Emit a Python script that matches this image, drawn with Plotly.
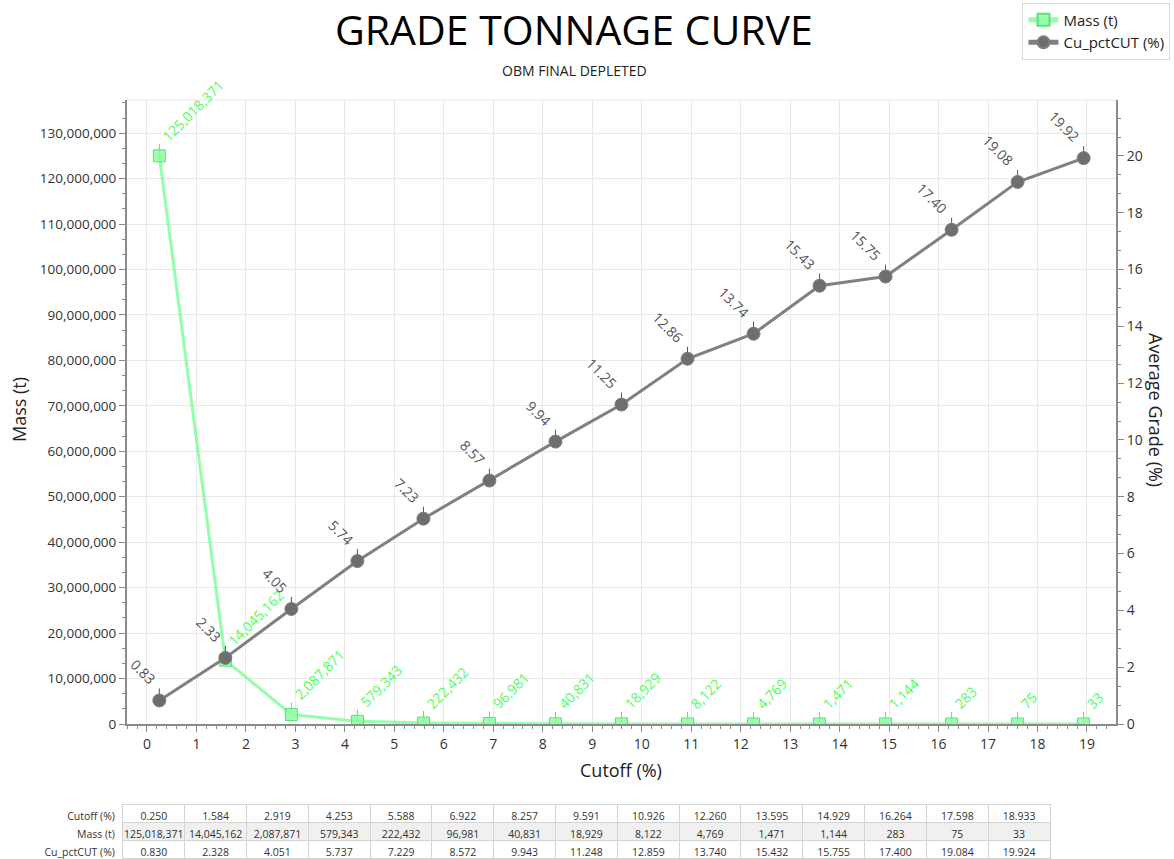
import plotly.graph_objects as go

# Grade-tonnage table values
cutoff = [0.250, 1.584, 2.919, 4.253, 5.588, 6.922, 8.257, 9.591, 10.926,
          12.260, 13.595, 14.929, 16.264, 17.598, 18.933]
mass_t = [125018371, 14045162, 2087871, 579343, 222432, 96981, 40831, 18929,
          8122, 4769, 1471, 1144, 283, 75, 33]
cu_pct = [0.830, 2.328, 4.051, 5.737, 7.229, 8.572, 9.943, 11.248, 12.859,
          13.740, 15.432, 15.7549, 17.400, 19.084, 19.924]

FONT = "Open Sans"
W, H = 1174, 859
ML, MR, MT, MB = 0, 58, 100, 0
PW, PH = W - ML - MR, H - MT - MB

def px_x(p):
    return (p - ML) / PW

def px_y(p):
    return (H - MB - p) / PH

GREEN_LINE = "rgba(110,255,140,0.75)"
GREEN_FILL = "rgba(140,255,160,0.85)"
GREEN_EDGE = "#5ee07a"
GREEN_TEXT = "#4cff5a"
GRAY_LINE = "#808080"
GRAY_MARK = "#6e6e6e"
GRAY_TEXT = "#555555"

x_range = [-0.404, 19.587]
y_range = [0, 137.3e6]
y2_range = [0, 21.97]
plot_h_px = 724 - 100
lead_px = 12

fig = go.Figure()

fig.add_trace(go.Scatter(
    x=cutoff, y=mass_t, name="Mass (t)", mode="lines+markers",
    line=dict(color=GREEN_LINE, width=3),
    marker=dict(symbol="square", size=12, color=GREEN_FILL,
                line=dict(color=GREEN_EDGE, width=1)),
    error_y=dict(type="data", symmetric=False,
                 array=[lead_px * y_range[1] / plot_h_px] * len(cutoff),
                 arrayminus=[0] * len(cutoff),
                 color=GREEN_EDGE, thickness=1, width=0),
    yaxis="y", hoverinfo="skip",
))

fig.add_trace(go.Scatter(
    x=cutoff, y=cu_pct, name="Cu_pctCUT (%)", mode="lines+markers",
    line=dict(color=GRAY_LINE, width=3),
    marker=dict(symbol="circle", size=13, color=GRAY_MARK,
                line=dict(color=GRAY_LINE, width=1)),
    error_y=dict(type="data", symmetric=False,
                 array=[lead_px * y2_range[1] / plot_h_px] * len(cutoff),
                 arrayminus=[0] * len(cutoff),
                 color="#555555", thickness=1, width=0),
    yaxis="y2", hoverinfo="skip",
))

# Bottom data table
row_names = ["Cutoff (%)", "Mass (t)", "Cu_pctCUT (%)"]
cols = [[f"{c:.3f}" for c in cutoff], [f"{m:,}" for m in mass_t],
        [f"{g:.3f}" for g in cu_pct]]
header_vals = [row_names[0]] + cols[0]
cell_vals = [[row_names[1], row_names[2]]] + [[cols[1][i], cols[2][i]] for i in range(len(cutoff))]
line_cols = ["white"] + ["#d4d4d4"] * len(cutoff)
cell_fill = [["white", "white"]] + [["#f0f0f0", "white"]] * len(cutoff)
fig.add_trace(go.Table(
    domain=dict(x=[px_x(0), px_x(1050)], y=[0, px_y(804)]),
    columnwidth=[110] + [55.3] * len(cutoff),
    header=dict(values=header_vals, height=18,
                align=["right"] + ["center"] * len(cutoff),
                fill=dict(color="white"),
                line=dict(color=line_cols, width=1),
                font=dict(family=FONT, size=10.5, color="#333333")),
    cells=dict(values=cell_vals, height=18,
               align=["right"] + ["center"] * len(cutoff),
               fill=dict(color=cell_fill),
               line=dict(color=line_cols, width=1),
               font=dict(family=FONT, size=10.5, color="#333333")),
))

annotations = []
# value labels for mass (ascending) and grade (descending, to the upper left)
for c, m in zip(cutoff, mass_t):
    annotations.append(dict(
        x=c, y=m, xref="x", yref="y", text=f"{m:,}", showarrow=False,
        textangle=-45, xanchor="left", yanchor="bottom", xshift=-4, yshift=8,
        font=dict(family=FONT, size=14, color=GREEN_TEXT)))
for c, g in zip(cutoff, cu_pct):
    annotations.append(dict(
        x=c, y=g, xref="x", yref="y2", text=f"{g:.2f}", showarrow=False,
        textangle=45, xanchor="right", yanchor="bottom", xshift=3, yshift=9,
        font=dict(family=FONT, size=14, color=GRAY_TEXT)))

def centered(text, cx, cy, size, color, angle=0):
    return dict(x=px_x(cx), y=px_y(cy), xref="paper", yref="paper",
                xanchor="center", yanchor="middle", text=text,
                showarrow=False, textangle=angle,
                font=dict(family=FONT, size=size, color=color))

annotations += [
    centered("GRADE TONNAGE CURVE", 574, 29, 41, "#000000"),
    centered("OBM FINAL DEPLETED", 574, 70, 14, "#222222"),
    centered("Cutoff (%)", 621, 770, 18, "#222222"),
    centered("Mass (t)", 19, 410, 18, "#222222", -90),
    centered("Average Grade (%)", 1156, 410, 18, "#222222", 90),
]

# light border along the top of the plot area
shapes = [dict(type="line", xref="paper", yref="paper",
               x0=px_x(127), x1=1, y0=px_y(100), y1=px_y(100),
               line=dict(color="#e6e6e6", width=1), layer="below")]

fig.update_layout(
    width=W, height=H,
    margin=dict(l=ML, r=MR, t=MT, b=MB, autoexpand=False),
    paper_bgcolor="white", plot_bgcolor="white",
    font=dict(family=FONT, size=13, color="#333333"),
    showlegend=True,
    legend=dict(xref="container", yref="container", x=0.997, y=0.997,
                xanchor="right", yanchor="top",
                bordercolor="#d9d9d9", borderwidth=1, bgcolor="white",
                font=dict(family=FONT, size=15, color="#222222"),
                itemsizing="constant", tracegroupgap=2),
    xaxis=dict(domain=[px_x(127), 1], range=x_range, dtick=1, tick0=0,
               showgrid=True, gridcolor="#e8e8e8", zeroline=False,
               showline=True, linecolor="#8a8a8a", linewidth=2,
               ticks="outside", ticklen=6, tickcolor="#8a8a8a",
               minor=dict(dtick=0.2, ticks="outside", ticklen=3,
                          tickcolor="#8a8a8a", showgrid=False),
               tickfont=dict(size=14, color="#333333")),
    yaxis=dict(domain=[px_y(724), 1], range=y_range, dtick=10e6, tick0=0,
               tickformat=",d", showgrid=True, gridcolor="#e8e8e8",
               zeroline=False, showline=True, linecolor="#8a8a8a", linewidth=2,
               ticks="outside", ticklen=6, tickcolor="#8a8a8a",
               minor=dict(dtick=10e6 / 3, ticks="outside", ticklen=3,
                          tickcolor="#8a8a8a", showgrid=False),
               tickfont=dict(size=13.5, color="#333333")),
    yaxis2=dict(overlaying="y", side="right", range=y2_range, dtick=2, tick0=0,
                showgrid=False, zeroline=False, showline=True,
                linecolor="#8a8a8a", linewidth=2,
                ticks="outside", ticklen=6, tickcolor="#8a8a8a",
                minor=dict(dtick=2 / 3, ticks="outside", ticklen=3,
                           tickcolor="#8a8a8a", showgrid=False),
                tickfont=dict(size=14, color="#333333")),
    annotations=annotations,
    shapes=shapes,
)

fig.write_html("out.html")
